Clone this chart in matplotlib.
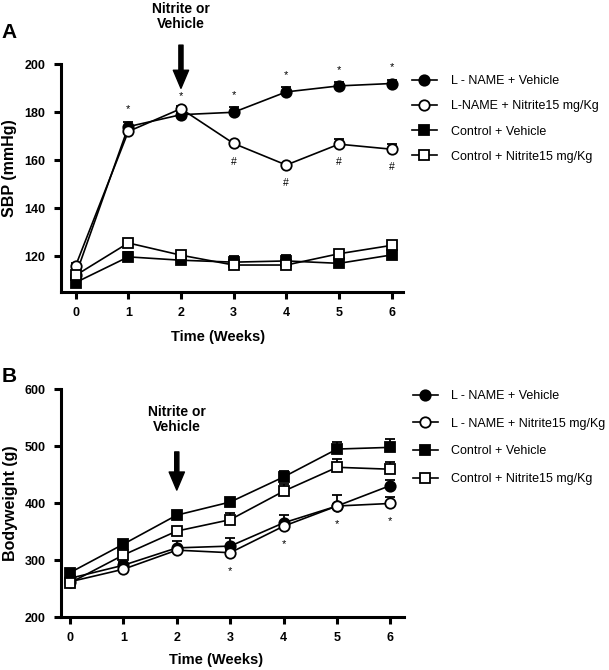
import numpy as np
import matplotlib
matplotlib.use("Agg")
import matplotlib.pyplot as plt

plt.rcParams['font.family'] = ['Liberation Sans', 'DejaVu Sans']

# --- data --------------------------------------------------------------------
weeks = [0, 1, 2, 3, 4, 5, 6]

# Panel A: systolic blood pressure (mmHg)
sbp_lname_veh = [112, 174, 179, 180, 188.5, 191, 192]
sbp_lname_nit = [116, 172, 181.5, 167, 158, 166.7, 164.6]
sbp_ctrl_veh = [109, 119.7, 118.3, 117.5, 118, 117, 120.5]
sbp_ctrl_nit = [112, 125.5, 120.4, 116.3, 116.3, 121, 124.5]
sbp_err_lname_veh = [1, 2, 1, 2, 2, 1.5, 1.5]
sbp_err_lname_nit = [1, 1, 1, 1, 1, 2, 2]
sbp_err_ctrl_veh = [1, 2, 1, 2.5, 2.5, 2, 1]
sbp_err_ctrl_nit = [1, 1, 1, 1, 1, 1, 1]

# Panel B: bodyweight (g)
bw_lname_veh = [268, 291, 321.5, 324.6, 365.5, 395, 431]
bw_lname_nit = [262, 284, 317.5, 313, 359.6, 395, 399.5]
bw_ctrl_veh = [278, 328, 379, 402, 446, 495, 498]
bw_ctrl_nit = [260, 309, 351, 371, 421, 463, 459.6]
bw_err_lname_veh = [3, 5, 12, 15, 13, 20, 10]
bw_err_lname_nit = [3, 4, 4, 4, 4, 4, 12]
bw_err_ctrl_veh = [3, 4, 4, 5, 10, 12, 15]
bw_err_ctrl_nit = [3, 4, 6, 12, 12, 14, 13]

labels_a = ["L - NAME + Vehicle", "L-NAME + Nitrite15 mg/Kg",
            "Control + Vehicle", "Control + Nitrite15 mg/Kg"]
labels_b = ["L - NAME + Vehicle", "L - NAME + Nitrite15 mg/Kg",
            "Control + Vehicle", "Control + Nitrite15 mg/Kg"]

star_weeks_a = [1, 2, 3, 4, 5, 6]
hash_weeks_a = [3, 4, 5, 6]
star_weeks_b = [3, 4, 5, 6]

STYLES = [dict(marker="o", mfc="black"), dict(marker="o", mfc="white"),
          dict(marker="s", mfc="black"), dict(marker="s", mfc="white")]


def draw_series(ax, series, errs, labels):
    handles = []
    for vals, err, st, lab in zip(series, errs, STYLES, labels):
        vals = np.array(vals, float)
        ax.errorbar(weeks, vals, yerr=[np.zeros(len(vals)), err], fmt="none",
                    ecolor="black", elinewidth=1.3, capsize=3.5, capthick=1.3,
                    zorder=2)
        h, = ax.plot(weeks, vals, color="black", lw=1.2, marker=st["marker"],
                     ms=7.5, mfc=st["mfc"], mec="black", mew=1.3, label=lab,
                     zorder=3)
        handles.append(h)
    return handles


def style_axes(ax, ylim, yticks, xlim, ylabel, xlab_pos, ylab_pos):
    ax.set_xlim(*xlim)
    ax.set_ylim(*ylim)
    ax.set_xticks(weeks)
    ax.set_yticks(yticks)
    for s in ["top", "right"]:
        ax.spines[s].set_visible(False)
    for s in ["left", "bottom"]:
        ax.spines[s].set_linewidth(2.2)
    ax.tick_params(width=2.2, length=5, labelsize=9, pad=6)
    for t in ax.get_xticklabels() + ax.get_yticklabels():
        t.set_fontweight("bold")
    ax.set_xlabel("Time (Weeks)", fontsize=10.5, fontweight="bold", va="center")
    ax.set_ylabel(ylabel, fontsize=11.5, fontweight="bold", va="center", ha="center")
    ax.xaxis.set_label_coords(*xlab_pos)
    ax.yaxis.set_label_coords(*ylab_pos)


fig = plt.figure(figsize=(6.09, 6.70), dpi=100)
axA = fig.add_axes([0.100, 0.564, 0.562, 0.340])
axB = fig.add_axes([0.100, 0.079, 0.563, 0.340])

# --- panel A -------------------------------------------------------------------
hA = draw_series(axA, [sbp_lname_veh, sbp_lname_nit, sbp_ctrl_veh, sbp_ctrl_nit],
                 [sbp_err_lname_veh, sbp_err_lname_nit, sbp_err_ctrl_veh, sbp_err_ctrl_nit],
                 labels_a)
style_axes(axA, (105, 200), [120, 140, 160, 180, 200], (-0.28, 6.22), "SBP (mmHg)",
           (0.459, -0.197), (-0.149, 0.544))

for w in star_weeks_a:
    top = max(sbp_lname_veh[w] + sbp_err_lname_veh[w], sbp_lname_nit[w])
    axA.annotate("*", (w, top), xytext=(0, 9), textcoords="offset points",
                 ha="center", va="center", fontsize=8)
for w in hash_weeks_a:
    axA.annotate("#", (w, sbp_lname_nit[w]), xytext=(0, -13), textcoords="offset points",
                 ha="center", va="center", fontsize=7.5)

axA.text(2, 220, "Nitrite or\nVehicle", ha="center", va="center", fontsize=10,
         fontweight="bold", linespacing=1.15, clip_on=False)
axA.annotate("", xy=(2, 190), xytext=(2, 208), annotation_clip=False,
             arrowprops=dict(width=3, headwidth=11, headlength=13, facecolor="black",
                             edgecolor="black"))
axA.legend(handles=hA, loc="upper left", bbox_to_anchor=(1.0, 0.99), frameon=False,
           fontsize=9, handlelength=2.0, handletextpad=1.1, labelspacing=1.05,
           borderaxespad=0.3)

# --- panel B -------------------------------------------------------------------
hB = draw_series(axB, [bw_lname_veh, bw_lname_nit, bw_ctrl_veh, bw_ctrl_nit],
                 [bw_err_lname_veh, bw_err_lname_nit, bw_err_ctrl_veh, bw_err_ctrl_nit],
                 labels_b)
style_axes(axB, (200, 600), [200, 300, 400, 500, 600], (-0.17, 6.25), "Bodyweight (g)",
           (0.452, -0.19), (-0.146, 0.5))

for w in star_weeks_b:
    axB.annotate("*", (w, bw_lname_nit[w]), xytext=(0, -13), textcoords="offset points",
                 ha="center", va="center", fontsize=8)

axB.text(2, 547, "Nitrite or\nVehicle", ha="center", va="center", fontsize=10,
         fontweight="bold", linespacing=1.15, clip_on=False)
axB.annotate("", xy=(2, 423), xytext=(2, 490), annotation_clip=False,
             arrowprops=dict(width=3, headwidth=11, headlength=13, facecolor="black",
                             edgecolor="black"))
axB.legend(handles=hB, loc="upper left", bbox_to_anchor=(1.0, 1.035), frameon=False,
           fontsize=9, handlelength=2.0, handletextpad=1.1, labelspacing=1.25,
           borderaxespad=0.3)

fig.text(0.003, 0.952, "A", fontsize=15, fontweight="bold", va="center")
fig.text(0.003, 0.438, "B", fontsize=15, fontweight="bold", va="center")

fig.savefig("out.png", dpi=100)
